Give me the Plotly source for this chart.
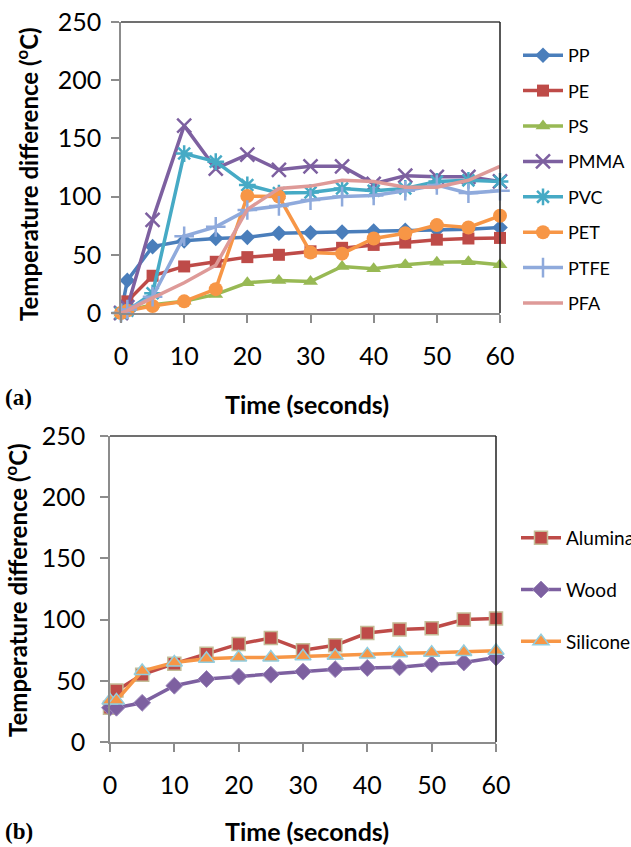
import plotly.graph_objects as go

# ---------------- data ----------------
time_s = [0, 1, 5, 10, 15, 20, 25, 30, 35, 40, 45, 50, 55, 60]

pp   = [0, 28, 57, 62, 64, 65, 68.5, 69, 69.5, 70.5, 71, 71.5, 72, 73.5]
pe   = [0, 10, 32, 40, 44, 48, 50, 53, 56, 58.5, 60.5, 63, 64, 64.5]
ps   = [0, 2, 7, 10, 16, 26, 28, 27, 40, 38, 41.5, 43.5, 44, 41.5]
pmma = [0, 5, 80, 161, 124, 136, 123, 126, 126, 111, 118, 117, 117, 113]
pvc  = [0, 2, 17, 137, 130, 110, 103, 103.5, 107, 105, 107, 113, 114, 113]
pet  = [0, 2, 6, 10, 20.5, 100.5, 100, 52, 51, 64, 68.5, 75.5, 73.5, 83.5]
ptfe = [0, 3, 14, 66, 74, 88.5, 92, 97, 100, 101, 105, 110, 103, 105]
pfa  = [0, 2, 13, 26, 41, 89, 107, 109, 114, 113, 108, 108, 114, 126]

alumina  = [28, 42, 55, 64, 72, 80, 85, 75, 79, 89, 92, 93, 100, 101]
wood     = [28, 28, 32, 46, 51.5, 53.5, 55, 57.5, 59.5, 60.5, 61, 63.5, 65, 69]
silicone = [34, 34, 58, 65, 68, 69, 69, 70, 70.5, 71.5, 72.5, 73, 73.5, 74.5]

y_ticks = [0, 50, 100, 150, 200, 250]
x_ticks = [0, 10, 20, 30, 40, 50, 60]

FONT = "Lato"
TICK_FONT = dict(family=FONT, size=25, color="#000000")

fig = go.Figure()

top_series = [
    ("PP", pp, "#4A7EBB", "diamond", 12, None),
    ("PE", pe, "#BE4B48", "square", 12, None),
    ("PS", ps, "#98B954", "triangle-up", 13, None),
    ("PMMA", pmma, "#7D60A0", "x-thin", 14, 2.5),
    ("PVC", pvc, "#46AAC5", "asterisk", 14, 2.5),
    ("PET", pet, "#F79646", "circle", 14, None),
    ("PTFE", ptfe, "#8FAADC", "cross-thin", 14, 2.5),
    ("PFA", pfa, "#DE9A98", None, 0, None),
]

for name, vals, col, sym, size, lw in top_series:
    kw = {}
    if sym is None:
        mode = "lines"
    else:
        mode = "lines+markers"
        m = dict(symbol=sym, size=size, color=col)
        if lw is not None:
            m["line"] = dict(color=col, width=lw)
        else:
            m["line"] = dict(color=col, width=0)
        kw["marker"] = m
    fig.add_trace(go.Scatter(
        x=time_s, y=vals, name=name, mode=mode,
        line=dict(color=col, width=3.5),
        xaxis="x", yaxis="y", legend="legend", legendgroup=name,
        cliponaxis=False, **kw))

bottom_series = [
    ("Alumina", alumina, "#BE4B48", "square", 13, "#C4BD97", 1.5),
    ("Wood", wood, "#7D60A0", "diamond", 13, "#9B86BA", 1),
    ("Silicone", silicone, "#F79646", "triangle-up", 14, "#93CDDD", 1.5),
]
for name, vals, col, sym, size, bcol, bw in bottom_series:
    fig.add_trace(go.Scatter(
        x=time_s, y=vals, name=name, mode="lines+markers",
        line=dict(color=col, width=3.5),
        marker=dict(symbol=sym, size=size, color=col, line=dict(color=bcol, width=bw)),
        xaxis="x2", yaxis="y2", legend="legend2", legendgroup=name,
        cliponaxis=False))

W, H = 631, 847

def px_x(p):
    return p / W

def px_y(p):
    return 1 - p / H

axis_common = dict(
    showgrid=False, zeroline=False, showline=True, linecolor="#8C8C8C", linewidth=1.5,
    ticks="outside", tickcolor="#8C8C8C", ticklen=8, tickwidth=1.5,
    tickfont=TICK_FONT,
)

fig.update_layout(
    width=W, height=H,
    margin=dict(l=0, r=0, t=0, b=0, autoexpand=False),
    paper_bgcolor="white", plot_bgcolor="white",
    xaxis=dict(domain=[px_x(121), px_x(500)], range=[0, 60], tickvals=x_ticks,
               anchor="y", ticklabelstandoff=12, **axis_common),
    yaxis=dict(domain=[px_y(313), px_y(22)], range=[0, 250], tickvals=y_ticks,
               anchor="x", ticklabelstandoff=5, **axis_common),
    xaxis2=dict(domain=[px_x(110), px_x(496)], range=[0, 60], tickvals=x_ticks,
                anchor="y2", ticklabelstandoff=12, **axis_common),
    yaxis2=dict(domain=[px_y(742), px_y(436)], range=[0, 250], tickvals=y_ticks,
                anchor="x2", ticklabelstandoff=10, **axis_common),
    legend=dict(x=px_x(518), y=px_y(37), xanchor="left", yanchor="top",
                font=dict(family=FONT, size=18, color="#000000"),
                traceorder="grouped", tracegroupgap=9, itemwidth=40,
                bgcolor="rgba(0,0,0,0)"),
    legend2=dict(x=px_x(516), y=px_y(519), xanchor="left", yanchor="top",
                 font=dict(family=FONT, size=19, color="#000000"),
                 traceorder="grouped", tracegroupgap=24, itemwidth=40,
                 bgcolor="rgba(0,0,0,0)"),
    showlegend=True,
)

# plot-area border (top & right) in dark colour
for xr, yr in (("x domain", "y domain"), ("x2 domain", "y2 domain")):
    fig.add_shape(type="line", xref=xr, yref=yr, x0=0, x1=1, y0=1, y1=1,
                  line=dict(color="#404040", width=1.5))
    fig.add_shape(type="line", xref=xr, yref=yr, x0=1, x1=1, y0=0, y1=1,
                  line=dict(color="#202020", width=1.5))

ytitle = "Temperature difference (<sup>o</sup>C)"
fig.add_annotation(text="<b>" + ytitle + "</b>", xref="paper", yref="paper",
                   x=px_x(27), y=px_y(174), textangle=-90, showarrow=False,
                   xanchor="center", yanchor="middle",
                   font=dict(family=FONT, size=24, color="#000000"))
fig.add_annotation(text="<b>" + ytitle + "</b>", xref="paper", yref="paper",
                   x=px_x(16), y=px_y(590), textangle=-90, showarrow=False,
                   xanchor="center", yanchor="middle",
                   font=dict(family=FONT, size=24, color="#000000"))
fig.add_annotation(text="<b>Time (seconds)</b>", xref="paper", yref="paper",
                   x=px_x(307), y=px_y(404), showarrow=False,
                   xanchor="center", yanchor="middle",
                   font=dict(family=FONT, size=25, color="#000000"))
fig.add_annotation(text="<b>Time (seconds)</b>", xref="paper", yref="paper",
                   x=px_x(307), y=px_y(831), showarrow=False,
                   xanchor="center", yanchor="middle",
                   font=dict(family=FONT, size=25, color="#000000"))
fig.add_annotation(text="<b>(a)</b>", xref="paper", yref="paper",
                   x=px_x(3), y=px_y(397), showarrow=False,
                   xanchor="left", yanchor="middle",
                   font=dict(family="Liberation Serif", size=23, color="#000000"))
fig.add_annotation(text="<b>(b)</b>", xref="paper", yref="paper",
                   x=px_x(3), y=px_y(831), showarrow=False,
                   xanchor="left", yanchor="middle",
                   font=dict(family="Liberation Serif", size=23, color="#000000"))

fig.write_html("out.html")
